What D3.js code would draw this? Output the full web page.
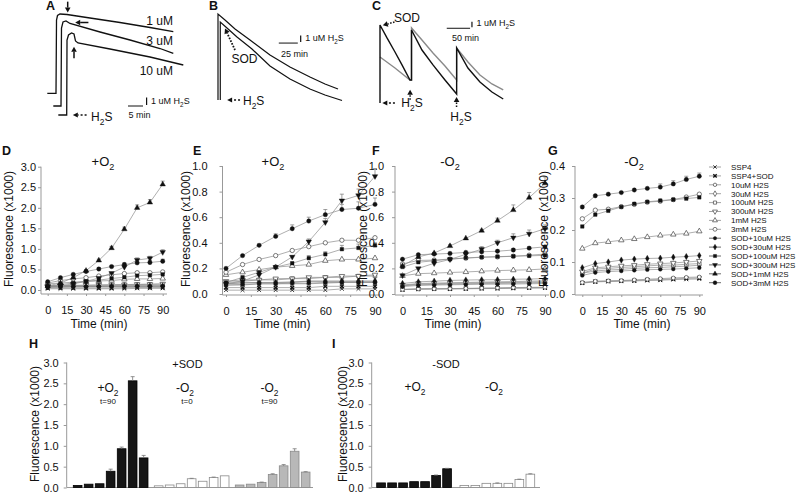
<!DOCTYPE html>
<html lang="en">
<head>
<meta charset="UTF-8">
<title>H2S / SOD fluorescence</title>
<script src="https://d3js.org/d3.v7.min.js"></script>
<style>
  body { margin: 0; background: #fff; }
  svg { font-family: "Liberation Sans", Arial, sans-serif; }
</style>
</head>
<body>
<script>
// ---------- data ----------
// top traces: [time (min), signal (uM H2S)]
const traceA1 = [[0.1,2.6],[3,2.6],[3.17,11.4],[3.5,11.94],[4.33,12.12],[6.67,12.06],[14.33,11.64],[24.33,11.1],[34.33,10.5],[42.1,10.0]];
const traceA2 = [[2.1,1.08],[4.67,1.08],[4.83,10.44],[5.33,11.16],[6.33,11.28],[7.67,10.98],[17.67,9.96],[27.67,9.0],[37.67,7.98],[42.1,7.4]];
const traceA3 = [[3.77,0],[6.57,0],[6.67,9.0],[7.17,9.6],[8.17,9.84],[9.0,9.72],[9.5,8.88],[10.33,8.64],[21,7.92],[34.33,6.96],[45.43,6.0]];
const traceB1 = [[0,0],[0,11.18],[9.2,10.4],[22.4,9.23],[42.1,7.8],[68.4,5.85],[94.7,4.29],[121,2.99],[140.8,2.08],[157.9,1.43]];
const traceB2 = [[3,0],[3,10.14],[11.8,9.36],[25,8.19],[44.7,6.63],[68.4,4.42],[94.7,2.73],[121,1.43],[140.8,0.65],[163.2,-0.07]];
const traceCBlack = [[0,0],[0,11.85],[15,9.88],[32.1,7.75],[47.1,5.78],[64.2,3.5],[67.5,3.5],[67.5,11.09],[89.9,8.05],[113.5,5.78],[139.2,3.5],[164.2,1.37],[164.2,8.36],[188.4,5.32],[214.1,3.19],[239.8,1.67],[264,0.61]];
const traceCGray = [[0,6.99],[32.1,5.32],[64.2,3.5],[67.5,3.5],[67.5,11.4],[89.9,9.57],[113.5,7.6],[139.2,5.62],[164.2,3.5],[164.2,8.36],[188.4,6.23],[214.1,4.26],[239.8,2.89],[264,1.98]];

// time courses
const times = [0, 10, 20, 30, 40, 50, 60, 70, 80, 90];
const timeTicks = [0, 15, 30, 45, 60, 75, 90];
const seriesNames = ["SSP4", "SSP4+SOD", "10uM H2S", "30uM H2S", "100uM H2S", "300uM H2S", "1mM H2S", "3mM H2S",
  "SOD+10uM H2S", "SOD+30uM H2S", "SOD+100uM H2S", "SOD+300uM H2S", "SOD+1mM H2S", "SOD+3mM H2S"];
const markerTypes = ["x", "x", "circle", "diamond", "square", "tridown", "triangle", "circlebig",
  "circle", "diamond", "square", "tridown", "triangle", "circlebig"];
const markerFilled = [false, true, false, false, false, false, false, false, true, true, true, true, true, true];

const plusO2 = [
  [0.03,0.03,0.03,0.03,0.03,0.03,0.03,0.04,0.04,0.04],
  [0.05,0.05,0.05,0.05,0.05,0.05,0.06,0.06,0.06,0.06],
  [0.07,0.07,0.08,0.08,0.08,0.08,0.085,0.09,0.09,0.09],
  [0.08,0.085,0.09,0.09,0.09,0.1,0.1,0.1,0.1,0.1],
  [0.09,0.1,0.11,0.11,0.12,0.12,0.13,0.13,0.14,0.14],
  [0.1,0.11,0.11,0.12,0.12,0.13,0.13,0.14,0.14,0.15],
  [0.15,0.17,0.19,0.21,0.22,0.23,0.26,0.27,0.27,0.28],
  [0.17,0.23,0.27,0.3,0.34,0.37,0.4,0.42,0.42,0.44],
  [0.07,0.075,0.08,0.08,0.085,0.085,0.09,0.09,0.09,0.09],
  [0.08,0.09,0.09,0.09,0.095,0.1,0.1,0.1,0.1,0.1],
  [0.09,0.13,0.17,0.21,0.24,0.28,0.31,0.35,0.36,0.38],
  [0.08,0.1,0.15,0.21,0.29,0.41,0.56,0.73,0.77,0.92],
  [0.1,0.17,0.3,0.47,0.72,1.02,1.48,2.0,2.13,2.57],
  [0.2,0.3,0.38,0.45,0.51,0.57,0.62,0.66,0.67,0.7]
];
const plusO2Err = {
  "SOD+100uM H2S": [0,0.01,0.01,0,0.01,0.02,0.02,0.03,0.03,0.02],
  "SOD+300uM H2S": [0,0,0.01,0.01,0.01,0.02,0.03,0.05,0.05,0.06],
  "SOD+1mM H2S":   [0,0,0.01,0.02,0.03,0.04,0.05,0.07,0.07,0.08],
  "SOD+3mM H2S":   [0,0,0.01,0.02,0.03,0.03,0.04,0.04,0.05,0.05]
};
const minusO2 = [
  [0.034,0.038,0.039,0.04,0.041,0.042,0.043,0.045,0.046,0.047],
  [0.035,0.039,0.04,0.041,0.042,0.044,0.045,0.047,0.049,0.05],
  [0.036,0.04,0.041,0.042,0.044,0.046,0.048,0.05,0.052,0.053],
  [0.065,0.072,0.075,0.077,0.08,0.082,0.083,0.085,0.087,0.09],
  [0.065,0.078,0.08,0.083,0.085,0.088,0.09,0.09,0.093,0.095],
  [0.07,0.082,0.085,0.088,0.09,0.093,0.095,0.097,0.1,0.103],
  [0.142,0.159,0.163,0.168,0.172,0.178,0.183,0.186,0.189,0.196],
  [0.235,0.262,0.265,0.273,0.28,0.287,0.29,0.295,0.303,0.312],
  [0.058,0.067,0.07,0.072,0.074,0.076,0.077,0.078,0.08,0.082],
  [0.082,0.095,0.1,0.106,0.109,0.111,0.112,0.115,0.117,0.12],
  [0.211,0.248,0.26,0.272,0.282,0.288,0.292,0.295,0.298,0.302],
  [0.145,0.2,0.24,0.27,0.31,0.35,0.4,0.44,0.47,0.51],
  [0.22,0.29,0.32,0.375,0.435,0.495,0.573,0.656,0.753,0.865],
  [0.272,0.307,0.312,0.317,0.325,0.33,0.334,0.344,0.358,0.368]
];
const minusO2Err = {
  "SOD+300uM H2S": [0,0,0,0,0.01,0.02,0.02,0.03,0.03,0.03],
  "SOD+1mM H2S":   [0,0,0,0.01,0,0.01,0.02,0.04,0.04,0.05],
  "SOD+3mM H2S":   [0,0,0,0,0,0,0.01,0.01,0.01,0.01]
};
const yTicksD = [0, 0.5, 1, 1.5, 2, 2.5, 3];
const yTicksEF = [0, 0.2, 0.4, 0.6, 0.8, 1];
const yTicksG = [0, 0.1, 0.2, 0.3, 0.4];

// bars (t=90 / t=0 readings, x1000)
const barTicks = [0, 0.5, 1, 1.5, 2, 2.5, 3];
const hBlack = [0.05, 0.08, 0.09, 0.39, 0.93, 2.56, 0.71];
const hBlackErr = [0, 0, 0, 0.05, 0.04, 0.1, 0.06];
const hWhite = [0.04, 0.06, 0.09, 0.21, 0.15, 0.24, 0.28];
const hWhiteErr = [0, 0, 0, 0.01, 0, 0.01, 0];
const hGray = [0.06, 0.08, 0.12, 0.31, 0.52, 0.87, 0.37];
const hGrayErr = [0, 0, 0.01, 0.02, 0.03, 0.06, 0.01];
const iBlack = [0.11, 0.11, 0.11, 0.14, 0.14, 0.29, 0.45];
const iBlackErr = [0.01, 0.01, 0, 0, 0, 0.01, 0.01];
const iWhite = [0.05, 0.05, 0.1, 0.1, 0.1, 0.19, 0.32];
const iWhiteErr = [0, 0, 0, 0.01, 0, 0.01, 0.01];

// ---------- helpers ----------
const svg = d3.select("body").append("svg").attr("width", 796).attr("height", 494);
const ink = "#111";

// text with subscripts: parts = [[string, isSub], ...]
function subText(g, x, y, parts, size, anchor) {
  const t = g.append("text").attr("x", x).attr("y", y).attr("font-size", size)
    .attr("text-anchor", anchor || "start").attr("fill", ink);
  let down = false;
  parts.forEach(([s, sub]) => {
    const sp = t.append("tspan").text(s).attr("font-size", sub ? size * 0.7 : size);
    if (sub && !down) { sp.attr("dy", size * 0.3); down = true; }
    else if (!sub && down) { sp.attr("dy", -size * 0.3); down = false; }
  });
  return t;
}
function label(g, x, y, s, size, anchor, weight) {
  return g.append("text").attr("x", x).attr("y", y).text(s).attr("font-size", size)
    .attr("text-anchor", anchor || "start").attr("font-weight", weight || "normal").attr("fill", ink);
}
function letter(x, y, s) { label(svg, x, y, s, 12.5, "start", "bold"); }

// arrow with filled head at (x2, y2)
function arrow(g, x1, y1, x2, y2, dash, len, wid, sw) {
  const a = Math.atan2(y2 - y1, x2 - x1);
  const L = len || 5, w = wid || 2.6;
  const bx = x2 - L * Math.cos(a), by = y2 - L * Math.sin(a);
  g.append("line").attr("x1", x1).attr("y1", y1).attr("x2", bx).attr("y2", by)
    .attr("stroke", ink).attr("stroke-width", sw || 1.3).attr("stroke-dasharray", dash || null);
  g.append("path").attr("fill", ink)
    .attr("d", `M${x2},${y2}L${bx - w * Math.sin(a)},${by + w * Math.cos(a)}L${bx + w * Math.sin(a)},${by - w * Math.cos(a)}Z`);
}

function scaleBar(g, x, y, t0, t1, v0, v1, tLab, tLabPos, vLabPos) {
  g.append("line").attr("x1", x(t0)).attr("x2", x(t1)).attr("y1", y(v0)).attr("y2", y(v0))
    .attr("stroke", ink).attr("stroke-width", 1);
  g.append("line").attr("x1", vLabPos[0]).attr("x2", vLabPos[0]).attr("y1", y(v0) - 1).attr("y2", y(v1))
    .attr("stroke", ink).attr("stroke-width", 1.2);
  subText(g, vLabPos[0] + 4.5, y(v0) - 2, [["1 uM H", 0], ["2", 1], ["S", 0]], 9);
  label(g, tLabPos[0], tLabPos[1], tLab, 9);
}

// ---------- panel A ----------
const gA = svg.append("g");
const xA = d3.scaleLinear().domain([0, 45]).range([47, 182]);
const yA = d3.scaleLinear().domain([0, 12]).range([115, 15]);
const lineA = d3.line().x(d => xA(d[0])).y(d => yA(d[1]));
[traceA1, traceA2, traceA3].forEach(tr => gA.append("path").attr("d", lineA(tr))
  .attr("fill", "none").attr("stroke", ink).attr("stroke-width", 1.3));
label(gA, 173, 25, "1 uM", 12, "end");
label(gA, 173, 45, "3 uM", 12, "end");
label(gA, 173, 75, "10 uM", 12, "end");
arrow(gA, xA(6.9), yA(13.6), xA(6.9), yA(12.3), null, 5, 2.8, 1.5);
arrow(gA, xA(13.8), yA(11.1), xA(9.4), yA(11.1), null, 5, 2.8, 1.5);
arrow(gA, xA(9), yA(6.8), xA(9), yA(8.2), null, 5, 2.8, 1.5);
arrow(gA, xA(13.2), yA(0), xA(8.6), yA(0), "2,2", 5, 2.6, 1.5);
subText(gA, xA(14.7), 121, [["H", 0], ["2", 1], ["S", 0]], 12);
scaleBar(gA, xA, yA, 27, 32, 1.08, 2.1, "5 min", [128.5, 118], [xA(33.2)]);
letter(46, 10, "A");

// ---------- panel B ----------
const gB = svg.append("g");
const xB = d3.scaleLinear().domain([0, 165]).range([218, 343.4]);
const yB = d3.scaleLinear().domain([0, 13]).range([100, 0]);
const lineB = d3.line().x(d => xB(d[0])).y(d => yB(d[1]));
[traceB1, traceB2].forEach(tr => gB.append("path").attr("d", lineB(tr))
  .attr("fill", "none").attr("stroke", ink).attr("stroke-width", 1.2));
label(gB, 231.5, 63, "SOD", 12);
arrow(gB, xB(22.4), yB(6.5), xB(9.2), yB(9.3), "1.6,1.4", 5, 2.8, 1.8);
arrow(gB, xB(29), yB(0), xB(12), yB(0), "2,2", 5, 2.6, 1.5);
subText(gB, 243, 105, [["H", 0], ["2", 1], ["S", 0]], 12);
scaleBar(gB, xB, yB, 80, 105, 7.4, 8.4, "25 min", [281, 57], [xB(108.8)]);
letter(209, 10, "B");

// ---------- panel C ----------
const gC = svg.append("g");
const xC = d3.scaleLinear().domain([0, 265]).range([380, 503.7]);
const yC = d3.scaleLinear().domain([0, 12]).range([103, 24]);
const lineC = d3.line().x(d => xC(d[0])).y(d => yC(d[1]));
gC.append("path").attr("d", lineC(traceCGray)).attr("fill", "none").attr("stroke", "#8a8a8a").attr("stroke-width", 1.4);
gC.append("path").attr("d", lineC(traceCBlack)).attr("fill", "none").attr("stroke", ink).attr("stroke-width", 1.4);
label(gC, 394, 22, "SOD", 12);
arrow(gC, xC(31), yC(12.3), xC(6), yC(11.8), "1.5,1.5", 5, 2.8, 1.5);
arrow(gC, xC(32), yC(0), xC(5), yC(0), "2,2", 5, 2.6, 1.5);
arrow(gC, xC(64.5), yC(0.5), xC(64.5), yC(2), "1.5,1.5", 5, 2.8, 1.5);
arrow(gC, xC(164), yC(-0.6), xC(164), yC(0.9), "1.5,1.5", 5, 2.8, 1.5);
subText(gC, 412, 107, [["H", 0], ["2", 1], ["S", 0]], 12, "middle");
subText(gC, 461, 121, [["H", 0], ["2", 1], ["S", 0]], 12, "middle");
scaleBar(gC, xC, yC, 143, 193, 11.35, 12.35, "50 min", [452, 41], [xC(197)]);
letter(372, 10, "C");

// ---------- time-course panels ----------
function markerPath(type, r) {
  switch (type) {
    case "circle": return d3.symbol(d3.symbolCircle, Math.PI * r * r)();
    case "circlebig": return d3.symbol(d3.symbolCircle, Math.PI * r * r * 1.3)();
    case "diamond": return d3.symbol(d3.symbolDiamond, r * r * 3.2)();
    case "square": return d3.symbol(d3.symbolSquare, r * r * 3.4)();
    case "triangle":
    case "tridown": return d3.symbol(d3.symbolTriangle, r * r * 3.6)();
    default: return `M${-r},${-r}L${r},${r}M${-r},${r}L${r},${-r}`;
  }
}
function drawMarker(g, i, x, y, r) {
  const t = markerTypes[i];
  const p = g.append("path").attr("d", markerPath(t, r))
    .attr("transform", `translate(${x},${y})` + (t === "tridown" ? " rotate(180)" : ""));
  if (t === "x") p.attr("fill", "none").attr("stroke", ink).attr("stroke-width", markerFilled[i] ? 1.4 : 0.8);
  else if (markerFilled[i]) p.attr("fill", ink).attr("stroke", ink).attr("stroke-width", 0.4);
  else p.attr("fill", "#fff").attr("stroke", "#444").attr("stroke-width", 0.7);
}

function timePanel(c) {
  const g = svg.append("g");
  const x = d3.scaleLinear().domain([0, 90]).range([c.x0, c.x90]);
  const y = d3.scaleLinear().domain([0, c.yMax]).range([c.yZero, c.yTop]);

  // axes
  const ya = g.append("g").attr("transform", `translate(${c.axisX},0)`)
    .call(d3.axisLeft(y).tickValues(c.ticks).tickFormat(d3.format(".1f")).tickSize(3).tickPadding(c.pad));
  ya.select(".domain").remove();
  const xa = g.append("g").attr("transform", `translate(0,${c.axisY})`)
    .call(d3.axisBottom(x).tickValues(timeTicks).tickSize(2).tickPadding(10));
  xa.select(".domain").remove();
  [ya, xa].forEach(a => {
    a.selectAll("line").attr("stroke", "#999");
    a.selectAll("text").attr("font-size", 11).attr("fill", ink).attr("font-family", null);
  });
  g.append("line").attr("x1", c.axisX).attr("x2", c.axisX).attr("y1", c.axisY).attr("y2", c.yTop)
    .attr("stroke", "#999");
  g.append("line").attr("x1", c.axisX).attr("x2", c.axisEnd).attr("y1", c.axisY).attr("y2", c.axisY)
    .attr("stroke", "#999");

  label(g, c.timeX, 328, "Time (min)", 12, "middle");
  g.append("text").attr("transform", `translate(${c.ylabX},229) rotate(-90)`)
    .attr("text-anchor", "middle").attr("font-size", 12).attr("fill", ink).text("Fluorescence (x1000)");
  subText(g, c.titleX, 166, [[c.sign + "O", 0], ["2", 1]], 13, "middle");
  letter(c.letterX, 155, c.letter);

  const line = d3.line().x((d, k) => x(times[k])).y(d => y(d));
  c.show.forEach(i => {
    g.append("path").attr("d", line(c.data[i])).attr("fill", "none")
      .attr("stroke", "#8c8c8c").attr("stroke-width", 0.7);
  });
  c.show.forEach(i => {
    const err = c.errs[seriesNames[i]];
    if (!err) return;
    c.data[i].forEach((v, k) => {
      if (!err[k]) return;
      const px = x(times[k]), y1 = y(v), y2 = y(v + err[k]);
      g.append("path").attr("d", `M${px},${y1}V${y2}M${px - 2},${y2}H${px + 2}`)
        .attr("stroke", "#777").attr("stroke-width", 0.7).attr("fill", "none");
    });
  });
  c.show.forEach(i => {
    c.data[i].forEach((v, k) => drawMarker(g, i, x(times[k]), y(v), 1.9));
  });
}

const allSeries = d3.range(seriesNames.length);
timePanel({ letter: "D", letterX: 2, sign: "+", titleX: 103, data: plusO2, errs: plusO2Err, show: allSeries,
  x0: 47.7, x90: 162.7, axisX: 41, axisEnd: 167, yMax: 3, yZero: 290, yTop: 166.7, axisY: 294,
  ticks: yTicksD, pad: 2, ylabX: 12.5, timeX: 99 });
timePanel({ letter: "E", letterX: 193, sign: "+", titleX: 273, data: plusO2, errs: plusO2Err,
  show: allSeries.filter(i => seriesNames[i] !== "SOD+1mM H2S"),
  x0: 226, x90: 375, axisX: 222.5, axisEnd: 380, yMax: 1, yZero: 294, yTop: 166, axisY: 295,
  ticks: yTicksEF, pad: 12, ylabX: 190, timeX: 282 });
timePanel({ letter: "F", letterX: 372, sign: "-", titleX: 450, data: minusO2, errs: minusO2Err, show: allSeries,
  x0: 402.5, x90: 545, axisX: 395, axisEnd: 549, yMax: 1, yZero: 294, yTop: 166, axisY: 295,
  ticks: yTicksEF, pad: 8, ylabX: 367, timeX: 453 });
timePanel({ letter: "G", letterX: 548, sign: "-", titleX: 634, data: minusO2, errs: minusO2Err,
  show: allSeries.filter(i => seriesNames[i] !== "SOD+1mM H2S" && seriesNames[i] !== "SOD+300uM H2S"),
  x0: 582.3, x90: 699.3, axisX: 575, axisEnd: 703, yMax: 0.4, yZero: 294, yTop: 166, axisY: 295,
  ticks: yTicksG, pad: 7, ylabX: 548, timeX: 642 });

// legend
const leg = svg.append("g");
seriesNames.forEach((name, i) => {
  const ly = 167 + i * 8.9;
  leg.append("line").attr("x1", 709).attr("x2", 721).attr("y1", ly).attr("y2", ly)
    .attr("stroke", markerFilled[i] && i > 1 ? "#444" : "#8c8c8c").attr("stroke-width", 0.8);
  drawMarker(leg, i, 715, ly, 1.7);
  label(leg, 731, ly + 2.8, name, 8);
});

// ---------- bar panels ----------
const barZero = 487.5, barTop = 362.5;
function barPanel(c) {
  const g = svg.append("g");
  const y = d3.scaleLinear().domain([0, 3]).range([barZero, barTop]);
  const x0 = d3.scaleBand().domain(d3.range(c.groups.length)).range(c.range).paddingInner(c.gpad);
  const x1 = d3.scaleBand().domain(d3.range(7)).range([0, x0.bandwidth()]).paddingInner(0.21);

  const ya = g.append("g").attr("transform", `translate(${c.axisX},0)`)
    .call(d3.axisLeft(y).tickValues(barTicks).tickFormat(d3.format(".1f")).tickSize(3).tickPadding(5));
  ya.select(".domain").remove();
  ya.selectAll("line").attr("stroke", "#999");
  ya.selectAll("text").attr("font-size", 11).attr("fill", ink).attr("font-family", null);
  g.append("line").attr("x1", c.axisX).attr("x2", c.axisX).attr("y1", barZero).attr("y2", barTop).attr("stroke", "#999");
  g.append("line").attr("x1", c.axisX).attr("x2", c.axisEnd).attr("y1", barZero).attr("y2", barZero).attr("stroke", "#999");

  c.groups.forEach((grp, gi) => {
    grp.vals.forEach((v, k) => {
      const bx = x0(gi) + x1(k), bw = x1.bandwidth();
      g.append("rect").attr("x", bx).attr("y", y(v)).attr("width", bw).attr("height", y(0) - y(v))
        .attr("fill", grp.fill).attr("stroke", grp.stroke).attr("stroke-width", 0.8);
      const e = grp.err[k];
      if (e) {
        const cx = bx + bw / 2;
        g.append("path").attr("d", `M${cx},${y(v)}V${y(v + e)}M${cx - 2},${y(v + e)}H${cx + 2}`)
          .attr("stroke", "#777").attr("stroke-width", 0.8);
      }
    });
  });
  g.append("text").attr("transform", `translate(${c.ylabX},424) rotate(-90)`)
    .attr("text-anchor", "middle").attr("font-size", 12).attr("fill", ink).text("Fluorescence (x1000)");
  return g;
}

const gH = barPanel({ axisX: 66.7, axisEnd: 313, range: [73.3, 310], gpad: 0.078, ylabX: 39,
  groups: [
    { vals: hBlack, err: hBlackErr, fill: "#161616", stroke: "#000" },
    { vals: hWhite, err: hWhiteErr, fill: "#fff", stroke: "#8a8a8a" },
    { vals: hGray, err: hGrayErr, fill: "#b8b8b8", stroke: "#8a8a8a" }
  ] });
label(gH, 187.5, 367.5, "+SOD", 11, "middle");
subText(gH, 108, 392, [["+O", 0], ["2", 1]], 12, "middle");
label(gH, 108, 404, "t=90", 8, "middle");
subText(gH, 185, 392, [["-O", 0], ["2", 1]], 12, "middle");
label(gH, 187, 404, "t=0", 8, "middle");
subText(gH, 269.5, 392, [["-O", 0], ["2", 1]], 12, "middle");
label(gH, 269.5, 404, "t=90", 8, "middle");
letter(29, 348, "H");

const gI = barPanel({ axisX: 371.7, axisEnd: 540, range: [376.7, 534.7], gpad: 0.103, ylabX: 347,
  groups: [
    { vals: iBlack, err: iBlackErr, fill: "#161616", stroke: "#000" },
    { vals: iWhite, err: iWhiteErr, fill: "#fff", stroke: "#8a8a8a" }
  ] });
label(gI, 446, 367.5, "-SOD", 11, "middle");
subText(gI, 415, 391, [["+O", 0], ["2", 1]], 12, "middle");
subText(gI, 494, 391, [["-O", 0], ["2", 1]], 12, "middle");
letter(332, 348, "I");
</script>
</body>
</html>
